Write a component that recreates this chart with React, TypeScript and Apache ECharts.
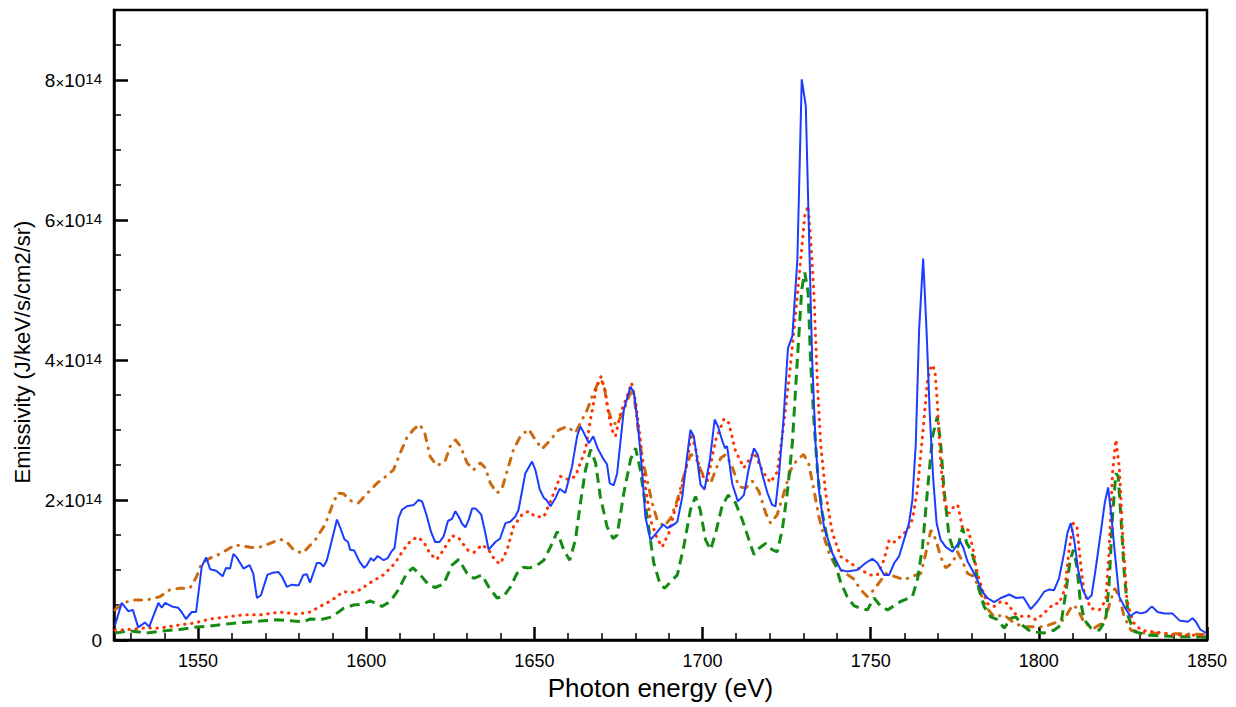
import React, { useEffect, useRef } from "react";
import * as echarts from "echarts";

const FONT = '"Liberation Sans", Arial, Helvetica, sans-serif';
const SCALE = 1e14;

// x tick values (eV)
const xMajorTicks = [1550, 1600, 1650, 1700, 1750, 1800, 1850];
const xMinorTicks = [
  1530, 1540, 1560, 1570, 1580, 1590, 1610, 1620, 1630, 1640, 1660, 1670, 1680, 1690,
  1710, 1720, 1730, 1740, 1760, 1770, 1780, 1790, 1810, 1820, 1830, 1840,
];
// y tick values (units of 1e14)
const yMajorTicks = [0, 2, 4, 6, 8];
const yMinorTicks = [0.5, 1, 1.5, 2.5, 3, 3.5, 4.5, 5, 5.5, 6.5, 7, 7.5, 8.5];

// [photon energy eV, emissivity in 1e14]
const solidBlue = [
  [1525.3, 0.21], [1527.3, 0.53], [1529.3, 0.41], [1530.6, 0.43], [1532.2, 0.18], [1534.2, 0.25],
  [1535.5, 0.19], [1538.2, 0.53], [1539.2, 0.46], [1540.2, 0.53], [1542.2, 0.48], [1544.1, 0.46],
  [1545.1, 0.4], [1546.4, 0.3], [1548.1, 0.4], [1549.4, 0.4], [1551.1, 1.05], [1552.4, 1.18],
  [1553.6, 1.01], [1555.4, 0.99], [1557.3, 0.91], [1558.3, 1.03], [1559.5, 1.02], [1560.5, 1.23],
  [1561.5, 1.18], [1563.5, 1.02], [1565.3, 1.07], [1566.4, 0.95], [1567.5, 0.6], [1568.7, 0.64],
  [1570.6, 0.93], [1572.2, 0.96], [1573.9, 0.97], [1574.9, 0.91], [1576.4, 0.76], [1577.9, 0.79],
  [1579.9, 0.78], [1581.3, 0.93], [1582.3, 0.94], [1583.3, 0.82], [1585.3, 1.1], [1586.3, 1.1],
  [1587.3, 1.05], [1588.3, 1.14], [1589.8, 1.43], [1591.3, 1.72], [1592.3, 1.6], [1593.5, 1.44],
  [1594.6, 1.4], [1595.2, 1.29], [1596.4, 1.28], [1598.0, 1.12], [1599.4, 1.03], [1600.2, 1.07],
  [1601.4, 1.17], [1602.2, 1.13], [1603.4, 1.2], [1605.2, 1.14], [1606.4, 1.17], [1607.6, 1.27],
  [1608.4, 1.31], [1609.6, 1.74], [1610.6, 1.86], [1612.1, 1.91], [1614.1, 1.93], [1615.6, 2.0],
  [1616.6, 1.98], [1617.9, 1.79], [1619.3, 1.54], [1620.5, 1.4], [1621.8, 1.4], [1623.0, 1.48],
  [1624.3, 1.7], [1625.5, 1.73], [1626.5, 1.84], [1627.5, 1.76], [1628.5, 1.66], [1629.5, 1.61],
  [1630.5, 1.72], [1631.5, 1.88], [1632.5, 1.88], [1634.2, 1.79], [1635.4, 1.53], [1636.4, 1.29],
  [1638.4, 1.4], [1639.8, 1.45], [1641.4, 1.67], [1642.8, 1.69], [1644.3, 1.76], [1645.3, 1.86],
  [1647.3, 2.38], [1649.3, 2.55], [1650.3, 2.43], [1651.6, 2.15], [1652.8, 2.03], [1653.6, 2.0],
  [1654.8, 1.91], [1656.3, 2.03], [1657.5, 2.16], [1659.2, 2.1], [1661.2, 2.48], [1662.7, 2.91],
  [1663.7, 3.05], [1664.7, 2.96], [1666.2, 2.81], [1667.5, 2.91], [1668.8, 2.74], [1670.6, 2.58],
  [1671.6, 2.51], [1672.4, 2.24], [1673.6, 2.21], [1674.6, 2.38], [1676.6, 3.29], [1678.6, 3.62],
  [1679.6, 3.53], [1680.6, 3.15], [1682.0, 2.43], [1683.0, 1.76], [1684.5, 1.43], [1686.5, 1.54],
  [1688.3, 1.65], [1689.5, 1.6], [1691.5, 1.65], [1692.5, 1.69], [1694.0, 2.05], [1695.4, 2.62],
  [1696.4, 3.0], [1697.4, 2.91], [1698.4, 2.58], [1699.4, 2.22], [1700.6, 2.15], [1702.2, 2.58],
  [1703.6, 3.15], [1704.6, 3.05], [1705.9, 2.84], [1706.7, 2.74], [1707.3, 2.77], [1708.8, 2.24],
  [1710.5, 1.98], [1712.3, 2.07], [1713.8, 2.46], [1715.3, 2.74], [1716.4, 2.65], [1717.8, 2.36],
  [1719.3, 2.1], [1720.7, 1.93], [1721.7, 1.91], [1722.7, 2.34], [1724.0, 3.1], [1725.4, 4.17],
  [1726.7, 4.34], [1728.2, 5.44], [1729.5, 8.01], [1730.7, 7.63], [1731.6, 5.91], [1732.6, 4.01],
  [1733.6, 2.81], [1734.6, 2.15], [1736.1, 1.62], [1738.6, 1.24], [1741.1, 1.0], [1742.9, 0.98],
  [1746.0, 1.0], [1748.5, 1.1], [1750.5, 1.16], [1752.0, 1.1], [1754.0, 0.93], [1755.5, 0.93],
  [1757.0, 1.1], [1758.4, 1.19], [1759.9, 1.43], [1761.4, 1.67], [1762.4, 2.0], [1763.4, 2.8],
  [1764.4, 4.43], [1765.6, 5.45], [1766.6, 4.43], [1767.6, 3.19], [1768.6, 2.29], [1769.6, 1.67],
  [1770.8, 1.43], [1772.3, 1.33], [1774.3, 1.26], [1775.3, 1.33], [1776.6, 1.41], [1777.6, 1.31],
  [1778.8, 1.12], [1780.2, 1.0], [1781.7, 0.86], [1783.2, 0.69], [1784.7, 0.6], [1786.7, 0.54],
  [1788.7, 0.6], [1791.2, 0.65], [1793.2, 0.6], [1795.4, 0.61], [1797.6, 0.44], [1799.6, 0.55],
  [1801.6, 0.69], [1803.0, 0.72], [1804.5, 0.71], [1806.0, 0.88], [1807.5, 1.24], [1808.5, 1.53],
  [1809.5, 1.67], [1810.5, 1.43], [1811.7, 1.0], [1813.0, 0.72], [1814.5, 0.58], [1815.7, 0.64],
  [1817.0, 1.05], [1818.5, 1.57], [1819.6, 1.96], [1820.6, 2.18], [1821.6, 1.76], [1822.6, 1.24],
  [1823.9, 0.62], [1825.4, 0.48], [1827.2, 0.34], [1828.9, 0.4], [1830.4, 0.38], [1831.9, 0.4],
  [1833.6, 0.48], [1835.3, 0.4], [1837.3, 0.38], [1839.7, 0.38], [1841.8, 0.28], [1844.3, 0.26],
  [1845.7, 0.31], [1846.7, 0.26], [1848.0, 0.15], [1849.7, 0.1],
];

const dottedRed = [
  [1525.3, 0.14], [1529.8, 0.15], [1533.7, 0.17], [1538.7, 0.17], [1543.7, 0.21], [1548.6, 0.24],
  [1553.6, 0.3], [1558.5, 0.33], [1563.5, 0.36], [1568.5, 0.36], [1574.4, 0.4], [1579.4, 0.37],
  [1583.3, 0.4], [1586.3, 0.48], [1589.8, 0.57], [1593.2, 0.69], [1596.2, 0.68], [1598.2, 0.72],
  [1601.2, 0.82], [1605.1, 0.93], [1608.6, 1.1], [1611.1, 1.29], [1613.1, 1.41], [1615.1, 1.47],
  [1617.0, 1.41], [1619.0, 1.23], [1621.0, 1.15], [1623.0, 1.29], [1625.5, 1.49], [1627.5, 1.46],
  [1630.0, 1.29], [1632.0, 1.25], [1634.4, 1.36], [1636.4, 1.29], [1638.4, 1.13], [1639.9, 1.09],
  [1641.9, 1.29], [1643.8, 1.62], [1646.3, 1.79], [1648.3, 1.84], [1650.3, 1.76], [1652.8, 1.76],
  [1654.8, 1.98], [1657.7, 2.34], [1660.2, 2.29], [1662.2, 2.34], [1663.7, 2.53], [1665.2, 2.72],
  [1666.7, 3.15], [1668.5, 3.62], [1669.8, 3.76], [1671.1, 3.55], [1672.1, 3.22], [1673.1, 3.0],
  [1674.1, 2.91], [1675.6, 3.24], [1677.4, 3.46], [1678.9, 3.67], [1680.1, 3.41], [1681.5, 2.86],
  [1683.0, 2.19], [1684.5, 1.72], [1686.5, 1.45], [1688.0, 1.33], [1690.0, 1.53], [1691.5, 1.81],
  [1693.5, 2.1], [1695.4, 2.53], [1696.6, 2.95], [1698.0, 2.72], [1699.4, 2.38], [1701.4, 2.27],
  [1703.9, 2.86], [1706.4, 3.16], [1707.8, 3.1], [1709.8, 2.7], [1712.3, 2.46], [1715.3, 2.68],
  [1718.0, 2.4], [1720.2, 2.25], [1722.2, 2.4], [1723.7, 2.91], [1725.7, 3.72], [1727.7, 4.67],
  [1729.2, 5.44], [1730.4, 6.06], [1731.4, 6.2], [1732.1, 5.77], [1733.1, 4.96], [1734.1, 3.72],
  [1735.1, 2.81], [1736.6, 2.1], [1738.6, 1.53], [1741.1, 1.19], [1744.0, 1.1], [1747.0, 1.0],
  [1750.0, 0.93], [1752.0, 0.93], [1754.0, 1.15], [1755.5, 1.43], [1757.0, 1.4], [1758.9, 1.48],
  [1760.9, 1.57], [1762.4, 1.72], [1763.9, 2.15], [1765.4, 2.91], [1766.9, 3.72], [1768.1, 3.93],
  [1769.1, 3.86], [1769.8, 3.39], [1770.8, 2.53], [1772.0, 1.96], [1773.3, 1.81], [1774.8, 1.91],
  [1775.9, 1.93], [1777.3, 1.6], [1779.0, 1.57], [1780.3, 1.33], [1781.7, 0.95], [1783.2, 0.72],
  [1784.7, 0.52], [1786.7, 0.48], [1788.7, 0.55], [1790.7, 0.52], [1792.7, 0.38], [1794.6, 0.34],
  [1797.1, 0.34], [1799.1, 0.29], [1801.0, 0.36], [1803.0, 0.45], [1804.5, 0.52], [1806.0, 0.52],
  [1807.7, 0.72], [1809.0, 1.29], [1810.3, 1.67], [1811.3, 1.62], [1812.3, 1.14], [1813.5, 0.67],
  [1815.5, 0.45], [1818.0, 0.43], [1819.9, 0.57], [1820.9, 1.29], [1821.9, 2.38], [1822.9, 2.86],
  [1823.9, 2.48], [1824.9, 1.53], [1826.2, 0.57], [1827.9, 0.26], [1830.4, 0.14], [1835.3, 0.11],
  [1840.3, 0.07], [1845.3, 0.07], [1849.7, 0.06],
];

const dashedGreen = [
  [1525.3, 0.1], [1529.8, 0.13], [1534.7, 0.1], [1539.6, 0.13], [1544.6, 0.15], [1548.6, 0.18],
  [1553.6, 0.2], [1558.5, 0.23], [1563.5, 0.25], [1568.5, 0.27], [1573.4, 0.29], [1578.4, 0.27],
  [1581.3, 0.26], [1583.3, 0.3], [1586.3, 0.29], [1589.8, 0.33], [1593.2, 0.45], [1596.2, 0.5],
  [1598.6, 0.51], [1601.2, 0.56], [1604.7, 0.48], [1607.1, 0.55], [1609.6, 0.72], [1612.1, 0.96],
  [1613.9, 1.03], [1616.1, 0.93], [1618.5, 0.79], [1620.5, 0.75], [1623.0, 0.8], [1625.5, 1.07],
  [1627.5, 1.15], [1630.0, 0.95], [1632.0, 0.88], [1634.4, 0.93], [1636.4, 0.76], [1638.9, 0.6],
  [1640.8, 0.62], [1642.9, 0.76], [1644.8, 0.95], [1646.8, 1.04], [1648.3, 1.03], [1650.3, 1.05],
  [1652.8, 1.14], [1654.8, 1.33], [1656.8, 1.55], [1658.7, 1.29], [1660.5, 1.14], [1662.2, 1.43],
  [1663.7, 1.96], [1665.2, 2.43], [1666.7, 2.72], [1668.2, 2.53], [1669.6, 2.05], [1671.6, 1.62],
  [1673.4, 1.45], [1674.6, 1.5], [1676.6, 2.1], [1678.6, 2.58], [1680.1, 2.74], [1681.5, 2.43],
  [1683.5, 1.76], [1685.5, 1.1], [1687.3, 0.81], [1688.7, 0.74], [1690.5, 0.83], [1692.5, 0.93],
  [1694.4, 1.33], [1696.4, 1.86], [1697.9, 2.05], [1699.3, 1.86], [1700.9, 1.43], [1702.4, 1.29],
  [1703.9, 1.53], [1705.8, 1.91], [1707.6, 2.07], [1709.8, 1.96], [1711.8, 1.72], [1713.8, 1.43],
  [1715.3, 1.22], [1716.8, 1.31], [1718.8, 1.38], [1720.7, 1.29], [1722.2, 1.26], [1723.7, 1.57],
  [1725.2, 2.1], [1726.7, 2.81], [1728.2, 4.01], [1729.5, 5.01], [1730.4, 5.25], [1731.4, 4.96],
  [1732.1, 4.01], [1733.1, 3.15], [1734.3, 2.34], [1735.6, 1.81], [1737.1, 1.45], [1739.1, 1.14],
  [1741.1, 0.82], [1743.0, 0.62], [1745.0, 0.49], [1747.0, 0.45], [1749.0, 0.43], [1751.0, 0.6],
  [1753.0, 0.48], [1755.0, 0.43], [1758.9, 0.55], [1762.4, 0.62], [1763.9, 0.86], [1765.4, 1.33],
  [1766.9, 2.15], [1768.4, 2.91], [1769.8, 3.19], [1770.8, 2.81], [1771.8, 2.15], [1773.3, 1.48],
  [1774.6, 1.29], [1775.9, 1.33], [1777.3, 1.6], [1778.6, 1.38], [1779.8, 1.29], [1781.0, 1.1],
  [1782.2, 0.72], [1783.7, 0.48], [1785.7, 0.33], [1787.7, 0.29], [1789.7, 0.17], [1791.7, 0.31],
  [1793.2, 0.33], [1795.1, 0.21], [1797.6, 0.12], [1801.6, 0.1], [1804.5, 0.14], [1806.5, 0.21],
  [1808.0, 0.67], [1809.3, 1.14], [1810.3, 1.29], [1811.3, 1.05], [1812.3, 0.57], [1813.5, 0.29],
  [1815.5, 0.17], [1818.0, 0.14], [1819.9, 0.29], [1820.9, 0.81], [1821.9, 1.76], [1822.9, 2.38],
  [1823.6, 2.34], [1824.4, 1.76], [1825.4, 0.95], [1826.6, 0.33], [1828.4, 0.12], [1832.3, 0.07],
  [1840.3, 0.05], [1849.7, 0.04],
];

const dashDotOrange = [
  [1525.3, 0.43], [1527.8, 0.53], [1530.7, 0.57], [1534.7, 0.57], [1538.7, 0.62], [1541.7, 0.72],
  [1544.6, 0.74], [1547.6, 0.74], [1549.6, 0.91], [1551.1, 1.1], [1553.6, 1.17], [1556.5, 1.23],
  [1559.0, 1.3], [1561.0, 1.36], [1563.5, 1.34], [1566.0, 1.32], [1568.5, 1.33], [1571.4, 1.38],
  [1574.4, 1.44], [1576.4, 1.4], [1578.4, 1.29], [1580.9, 1.24], [1582.1, 1.29], [1584.8, 1.43],
  [1587.8, 1.65], [1589.8, 1.91], [1591.5, 2.1], [1593.2, 2.09], [1595.7, 1.98], [1597.7, 1.96],
  [1600.2, 2.09], [1603.2, 2.24], [1606.2, 2.35], [1608.1, 2.43], [1610.1, 2.67], [1612.1, 2.89],
  [1614.1, 3.01], [1615.9, 3.08], [1617.4, 2.96], [1619.0, 2.62], [1621.0, 2.49], [1623.4, 2.55],
  [1625.0, 2.77], [1626.5, 2.86], [1628.0, 2.77], [1630.0, 2.53], [1631.9, 2.43], [1633.9, 2.53],
  [1635.4, 2.46], [1636.9, 2.24], [1638.9, 2.1], [1640.3, 2.15], [1642.3, 2.48], [1643.8, 2.72],
  [1645.8, 2.91], [1648.3, 3.01], [1650.3, 2.86], [1652.3, 2.73], [1654.8, 2.86], [1657.2, 3.0],
  [1659.7, 3.05], [1662.2, 2.96], [1663.7, 3.1], [1665.7, 3.29], [1667.6, 3.53], [1669.4, 3.72],
  [1670.6, 3.67], [1671.8, 3.31], [1673.1, 3.12], [1674.4, 3.08], [1676.1, 3.22], [1678.1, 3.48],
  [1679.4, 3.58], [1680.6, 3.1], [1682.0, 2.62], [1683.5, 2.29], [1685.0, 1.96], [1686.5, 1.72],
  [1688.5, 1.62], [1690.5, 1.74], [1692.5, 2.0], [1694.4, 2.34], [1696.4, 2.65], [1697.9, 2.62],
  [1699.4, 2.43], [1700.9, 2.29], [1702.4, 2.24], [1703.9, 2.43], [1705.4, 2.6], [1706.9, 2.65],
  [1708.8, 2.48], [1710.8, 2.19], [1712.8, 2.17], [1714.8, 2.27], [1716.8, 2.12], [1718.8, 1.81],
  [1720.2, 1.67], [1722.2, 1.79], [1724.2, 2.1], [1726.2, 2.43], [1728.2, 2.58], [1730.1, 2.65],
  [1731.6, 2.51], [1733.1, 2.15], [1734.6, 1.76], [1736.1, 1.48], [1737.6, 1.24], [1739.1, 1.1],
  [1741.1, 1.0], [1745.0, 0.87], [1747.0, 0.72], [1749.0, 0.62], [1751.0, 0.72], [1754.5, 0.95],
  [1757.0, 0.91], [1759.9, 0.86], [1762.4, 0.91], [1764.9, 0.95], [1766.4, 1.24], [1767.9, 1.57],
  [1769.4, 1.43], [1770.8, 1.19], [1772.3, 1.03], [1774.3, 1.1], [1775.8, 1.26], [1777.3, 1.12],
  [1778.8, 0.95], [1780.7, 0.91], [1782.7, 0.67], [1784.2, 0.48], [1786.7, 0.33], [1789.7, 0.36],
  [1792.7, 0.24], [1795.6, 0.19], [1798.6, 0.19], [1801.6, 0.19], [1804.5, 0.24], [1807.5, 0.29],
  [1810.0, 0.5], [1811.5, 0.45], [1813.5, 0.24], [1816.5, 0.17], [1819.4, 0.26], [1821.4, 0.57],
  [1822.6, 0.74], [1823.9, 0.62], [1825.4, 0.33], [1827.4, 0.14], [1831.3, 0.1], [1841.2, 0.09],
  [1849.0, 0.08],
];

const toData = (pts: number[][]) => pts.map(([x, v]) => [x, v * SCALE]);

export default function App() {
  const ref = useRef<HTMLDivElement>(null);

  useEffect(() => {
    if (!ref.current) return;
    const chart = echarts.init(ref.current, undefined, { renderer: "svg" });

    const axisBlack = { color: "#000", width: 2.5 };

    chart.setOption({
      animation: false,
      backgroundColor: "#ffffff",
      grid: {
        left: 114,
        right: 29,
        top: 10,
        bottom: 67,
        show: true,
        borderColor: "#000",
        borderWidth: 2.5,
        backgroundColor: "transparent",
      },
      xAxis: [
        {
          type: "value",
          min: 1525,
          max: 1850,
          position: "bottom",
          name: "Photon energy (eV)",
          nameLocation: "middle",
          nameGap: 35,
          nameTextStyle: { fontFamily: FONT, fontSize: 26, color: "#000" },
          axisLine: { show: true, lineStyle: axisBlack },
          axisTick: {
            show: true,
            inside: true,
            length: 13,
            customValues: xMajorTicks,
            lineStyle: { color: "#000", width: 2.5 },
          },
          axisLabel: {
            customValues: xMajorTicks,
            formatter: (v: number) => String(v),
            color: "#000",
            fontSize: 18,
            fontFamily: FONT,
            margin: 12,
          },
          splitLine: { show: false },
        },
        {
          type: "value",
          min: 1525,
          max: 1850,
          position: "bottom",
          axisLine: { show: false },
          axisTick: {
            show: true,
            inside: true,
            length: 7,
            customValues: xMinorTicks,
            lineStyle: { color: "#000", width: 1.5 },
          },
          axisLabel: { show: false },
          splitLine: { show: false },
        },
      ],
      yAxis: [
        {
          type: "value",
          min: 0,
          max: 9 * SCALE,
          position: "left",
          name: "Emissivity (J/keV/s/cm2/sr)",
          nameLocation: "middle",
          nameGap: 80,
          nameRotate: 90,
          nameTextStyle: {
            fontFamily: FONT,
            fontSize: 22,
            color: "#000",
            padding: [0, 54, 0, 0],
          },
          axisLine: { show: true, lineStyle: axisBlack },
          axisTick: {
            show: true,
            inside: true,
            length: 14,
            customValues: yMajorTicks.map((v) => v * SCALE),
            lineStyle: { color: "#000", width: 2.5 },
          },
          axisLabel: {
            customValues: yMajorTicks.map((v) => v * SCALE),
            margin: 12,
            formatter: (val: number) => {
              const m = Math.round(val / SCALE);
              return m === 0 ? "{z|0}" : `{n|${m}}{x|×}{n|10}{s|14}`;
            },
            rich: {
              n: { fontFamily: FONT, fontSize: 19, color: "#000", lineHeight: 19, verticalAlign: "bottom" },
              x: { fontFamily: FONT, fontSize: 15, color: "#000", lineHeight: 19, verticalAlign: "bottom" },
              s: {
                fontFamily: FONT,
                fontSize: 15,
                color: "#000",
                lineHeight: 15,
                verticalAlign: "top",
                padding: [0, 0, 13, 0],
              },
              z: { fontFamily: FONT, fontSize: 19, color: "#000", lineHeight: 19 },
            },
          },
          splitLine: { show: false },
        },
        {
          type: "value",
          min: 0,
          max: 9 * SCALE,
          position: "left",
          axisLine: { show: false },
          axisTick: {
            show: true,
            inside: true,
            length: 7,
            customValues: yMinorTicks.map((v) => v * SCALE),
            lineStyle: { color: "#000", width: 1.5 },
          },
          axisLabel: { show: false },
          splitLine: { show: false },
        },
      ],
      series: [
        {
          name: "dash-dot",
          type: "line",
          showSymbol: false,
          symbol: "none",
          data: toData(dashDotOrange),
          lineStyle: { color: "#cc6a10", width: 3, type: [7, 7.5, 0.5, 7.5], cap: "round" },
        },
        {
          name: "dashed",
          type: "line",
          showSymbol: false,
          symbol: "none",
          data: toData(dashedGreen),
          lineStyle: { color: "#148c14", width: 3, type: [10, 6] },
        },
        {
          name: "dotted",
          type: "line",
          showSymbol: false,
          symbol: "none",
          data: toData(dottedRed),
          lineStyle: { color: "#ff3300", width: 3, type: [0.5, 6.5], cap: "round" },
        },
        {
          name: "solid",
          type: "line",
          showSymbol: false,
          symbol: "none",
          data: toData(solidBlue),
          lineStyle: { color: "#1a3dff", width: 2 },
        },
      ],
    });

    return () => chart.dispose();
  }, []);

  return (
    <div
      ref={ref}
      style={{ position: "fixed", left: 0, top: 0, width: 1236, height: 707, background: "#fff" }}
    />
  );
}
